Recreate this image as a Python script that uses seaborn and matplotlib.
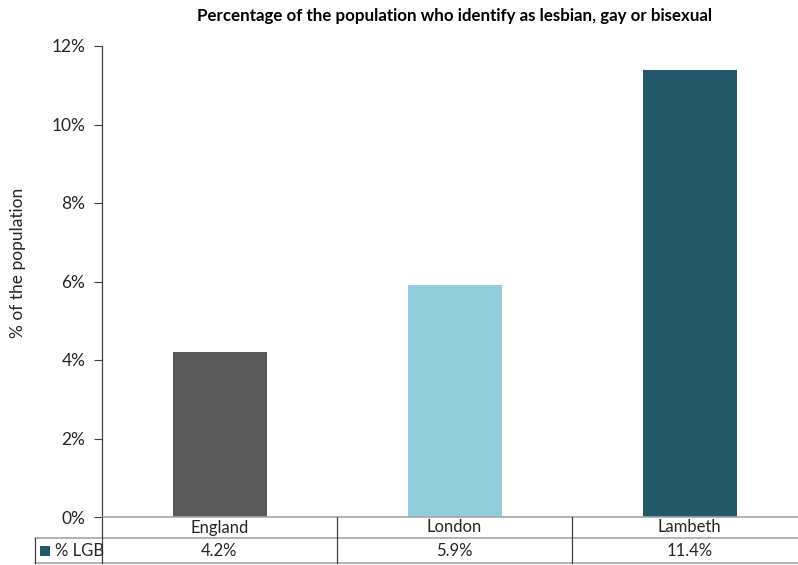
"""
plot.py

Share of the population identifying as lesbian, gay or bisexual,
Excel-style bar chart with a data table underneath.
"""
import pandas as pd
import seaborn as sb

from matplotlib import pyplot as plt
from matplotlib import ticker as tkr
from matplotlib.transforms import blended_transform_factory


AREAS = ["England", "London", "Lambeth"]
PCT_LGB = [0.042, 0.059, 0.114]
SERIES = "% LGB"
COLOURS = ["#595959", "#92CDDC", "#215968"]
TITLE = "Percentage of the population who identify as lesbian, gay or bisexual"
YLABEL = "% of the population"

W, H = 798, 565
GRID = "#A6A6A6"
DARK = "#404040"
TXT = "#262626"

sb.set_style("white")
plt.rcParams["font.family"] = ["Lato", "DejaVu Sans"]


def px(x, y):
    """pixel position in the figure -> figure fraction"""
    return x / W, 1 - y / H


def main():
    data = pd.DataFrame({"area": AREAS, "pct": PCT_LGB})

    fig = plt.figure(figsize=(W / 100, H / 100), dpi=100)
    # plot area runs a little past the right edge, like the Excel export
    left, top = px(102, 46)
    right, bottom = px(807, 517)
    ax = fig.add_axes([left, bottom, right - left, top - bottom])

    sb.barplot(data=data, x="area", y="pct", hue="area", palette=COLOURS,
               width=0.4, legend=False, saturation=1, linewidth=0, ax=ax)

    ax.set_ylim(0, 0.12)
    ax.set_xlim(-0.5, len(AREAS) - 0.5)
    ax.yaxis.set_major_locator(tkr.MultipleLocator(0.02))
    ax.yaxis.set_major_formatter(
        tkr.FuncFormatter(lambda v, p: "{:.0f}%".format(v * 100)))
    ax.tick_params(axis="y", length=6, width=0.8, color=DARK, left=True,
                   labelsize=12.5, labelcolor=TXT, pad=6)
    ax.set_xticks([])
    ax.set_xlabel("")
    ax.set_ylabel(YLABEL, fontsize=12.5, color=TXT)
    ax.yaxis.set_label_coords(-76 / 705, 0.54)
    for side in ["top", "right", "bottom"]:
        ax.spines[side].set_visible(False)
    ax.spines["left"].set_color(DARK)
    ax.spines["left"].set_linewidth(0.9)

    fig.text(px(455, 0)[0], px(0, 16)[1], TITLE,
             ha="center", va="center", fontsize=12.2, fontweight="bold",
             color="black")

    # data table under the axis
    y0, y1, y2 = 517, 538, 563
    x_key = 35
    col_edges = [102, 337, 572]
    for yy, x_start in [(y0, 102), (y1, x_key), (y2, x_key)]:
        fig.add_artist(plt.Line2D([x_start / W, 1], [px(0, yy)[1]] * 2,
                                  color=GRID, lw=1.2))
    for xx in col_edges:
        fig.add_artist(plt.Line2D([xx / W] * 2,
                                  [px(0, y0)[1], px(0, y2)[1]],
                                  color=DARK, lw=0.9))
    fig.add_artist(plt.Line2D([x_key / W] * 2,
                              [px(0, y1)[1], px(0, y2)[1]],
                              color=DARK, lw=0.9))

    # category and value rows follow the bar positions on the x axis
    trans = blended_transform_factory(ax.transData, fig.transFigure)
    for i, (area, pct) in enumerate(zip(AREAS, PCT_LGB)):
        ax.text(i, px(0, (y0 + y1) / 2)[1], area, transform=trans,
                ha="center", va="center", fontsize=12, color=TXT)
        ax.text(i, px(0, (y1 + y2) / 2)[1], "{:.1f}%".format(pct * 100),
                transform=trans, ha="center", va="center", fontsize=12,
                color=TXT)

    # legend key in the first column
    kx, ky = px(40, (y1 + y2) / 2 + 5)
    fig.add_artist(plt.Rectangle((kx, ky), 10 / W, 10 / H,
                                 color=COLOURS[-1], lw=0))
    fig.text(px(55, 0)[0], px(0, (y1 + y2) / 2)[1], SERIES,
             ha="left", va="center", fontsize=12, color=TXT)

    fig.savefig("out.png", dpi=100)


if __name__ == "__main__":
    main()
